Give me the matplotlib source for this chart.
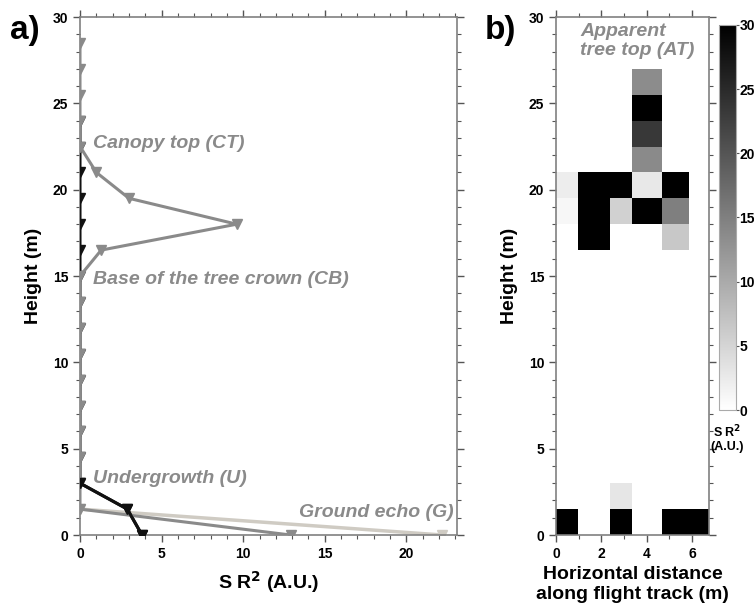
import numpy as np
import matplotlib
matplotlib.use("Agg")
import matplotlib.pyplot as plt
from matplotlib.ticker import MultipleLocator

plt.rcParams["font.family"] = ["Liberation Sans Narrow", "Liberation Sans", "DejaVu Sans"]
plt.rcParams["font.weight"] = "bold"

# --- panel a: vertical profiles of S R^2 ---
heights_gray = [0, 1.5, 3, 4.5, 6, 7.5, 9, 10.5, 12, 13.5, 15, 16.5, 18, 19.5, 21,
                22.5, 24, 25.5, 27, 28.5]
sr2_gray = [12.9, 0, 0, 0, 0, 0, 0, 0, 0, 0, 0, 1.3, 9.6, 3.0, 1.0,
            0, 0, 0, 0, 0]
heights_black = [0, 1.5, 3, 4.5, 6, 7.5, 9, 10.5, 12, 13.5, 15, 16.5, 18, 19.5, 21, 22.5, 24]
sr2_black = [3.8, 2.9, 0, 0, 0, 0, 0, 0, 0, 0, 0, 0, 0, 0, 0, 0, 0]
heights_light = [0, 1.5]
sr2_light = [22.2, 0]

# --- panel b: curtain of S R^2 along the flight track ---
x_edges = [0, 0.98, 2.38, 3.36, 4.65, 5.87, 6.74]
y_edges = np.arange(0, 27.01, 1.5)
nan = np.nan
# rows bottom (0-1.5 m) to top (25.5-27 m), columns along the track
curtain = np.full((len(y_edges) - 1, len(x_edges) - 1), nan)
curtain[0] = [30, nan, 30, nan, 30, 30]
curtain[1] = [nan, nan, 3, nan, nan, nan]
curtain[11] = [nan, 30, nan, nan, 6.5, nan]
curtain[12] = [1, 30, 5.5, 30, 15, nan]
curtain[13] = [2.2, 30, 30, 2.7, 30, nan]
curtain[14] = [nan, nan, nan, 13.8, nan, nan]
curtain[15] = [nan, nan, nan, 23.4, nan, nan]
curtain[16] = [nan, nan, nan, 30, nan, nan]
curtain[17] = [nan, nan, nan, 13.5, nan, nan]

GRAY = "#8a8a8a"
LIGHT = "#cfcbc3"
SPINE = "#808080"
ANN = dict(color=GRAY, fontsize=14, fontweight="bold", style="italic",
           family=["Liberation Sans", "DejaVu Sans"])


def style_axes(ax):
    for s in ax.spines.values():
        s.set_color(SPINE)
        s.set_linewidth(1.2)
    ax.tick_params(which="both", direction="out", top=True, right=True,
                   color="#555555", labelsize=10)
    ax.tick_params(which="major", length=5, width=1)
    ax.tick_params(which="minor", length=3, width=0.8)
    ax.yaxis.set_major_locator(MultipleLocator(5))
    ax.yaxis.set_minor_locator(MultipleLocator(1))
    ax.set_ylim(0, 30)


fig = plt.figure(figsize=(7.54, 6.05), dpi=100)
ax1 = fig.add_axes([0.1061, 0.1157, 0.5, 0.8562])
ax2 = fig.add_axes([0.7374, 0.1157, 0.2029, 0.8562])
cax = fig.add_axes([0.9536, 0.3223, 0.0225, 0.6364])

ax1.plot(sr2_light, heights_light, color=LIGHT, lw=2.5, marker="v", ms=7, mec=LIGHT, zorder=2)
ax1.plot(sr2_black, heights_black, color="#111111", lw=2.2, marker="v", ms=7, zorder=3)
ax1.plot(sr2_gray, heights_gray, color=GRAY, lw=2.2, marker="v", ms=7, mec=GRAY, zorder=4)
ax1.plot(sr2_black[:3], heights_black[:3], color="#111111", lw=2.2, marker="v", ms=7, zorder=5)
style_axes(ax1)
ax1.set_xlim(0, 23.1)
ax1.xaxis.set_major_locator(MultipleLocator(5))
ax1.xaxis.set_minor_locator(MultipleLocator(1))
ax1.set_xlabel("S R$^\\mathbf{2}$ (A.U.)", fontsize=14, fontweight="bold",
               family=["Liberation Sans", "DejaVu Sans"], labelpad=6)
ax1.set_ylabel("Height (m)", fontsize=14, fontweight="bold",
               family=["Liberation Sans", "DejaVu Sans"], labelpad=8)

ax1.text(0.8, 22.7, "Canopy top (CT)", va="center", ha="left", **ANN)
ax1.text(0.8, 14.8, "Base of the tree crown (CB)", va="center", ha="left", **ANN)
ax1.text(0.8, 3.3, "Undergrowth (U)", va="center", ha="left", **ANN)
ax1.text(22.9, 1.3, "Ground echo (G)", va="center", ha="right", **ANN)

mesh = ax2.pcolormesh(x_edges, y_edges, np.ma.masked_invalid(curtain),
                      cmap="gray_r", vmin=0, vmax=30, shading="flat")
style_axes(ax2)
ax2.set_xlim(0, 6.74)
ax2.xaxis.set_major_locator(MultipleLocator(2))
ax2.xaxis.set_minor_locator(MultipleLocator(1))
ax2.set_xlabel("Horizontal distance\nalong flight track (m)", fontsize=14,
               fontweight="bold", family=["Liberation Sans", "DejaVu Sans"], labelpad=4)
ax2.set_ylabel("Height (m)", fontsize=14, fontweight="bold",
               family=["Liberation Sans", "DejaVu Sans"], labelpad=8)
ax2.text(1.06, 28.6, "Apparent\ntree top (AT)", va="center", ha="left",
         linespacing=1.15, **ANN)

cb = fig.colorbar(mesh, cax=cax, ticks=[0, 5, 10, 15, 20, 25, 30])
cb.outline.set_edgecolor("#aaaaaa")
cax.tick_params(labelsize=10, length=2, pad=0.5, color="#555555")
fig.text(0.9649, 0.300, "S R$^\\mathbf{2}$\n(A.U.)", ha="center", va="top",
         fontsize=9, fontweight="bold", linespacing=1.1)

fig.text(0.013, 0.935, "a)", fontsize=24, fontweight="bold",
         family=["Liberation Sans", "DejaVu Sans"])
fig.text(0.643, 0.935, "b)", fontsize=24, fontweight="bold",
         family=["Liberation Sans", "DejaVu Sans"])

fig.savefig("out.png", dpi=100)
